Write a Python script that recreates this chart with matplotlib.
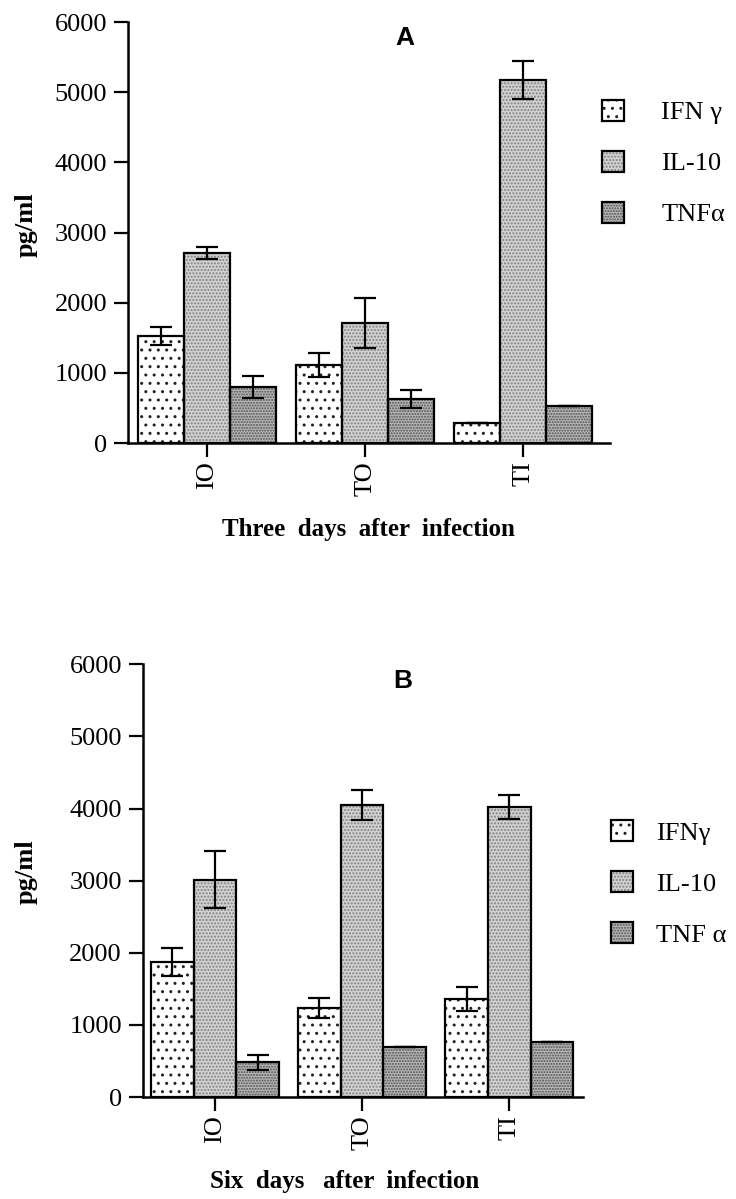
import numpy as np
import matplotlib
matplotlib.use("Agg")
import matplotlib.pyplot as plt

plt.rcParams['font.family'] = ['Liberation Serif', 'DejaVu Serif']
plt.rcParams['hatch.linewidth'] = 1.0

groups = ['IO', 'TO', 'TI']

# panel A - three days
ifn_a = [1530, 1110, 280]
ifn_a_err = [130, 170, 0]
il10_a = [2710, 1710, 5170]
il10_a_err = [90, 360, 270]
tnf_a = [800, 625, 530]
tnf_a_err = [160, 130, 0]

# panel B - six days
ifn_b = [1870, 1235, 1360]
ifn_b_err = [195, 135, 160]
il10_b = [3015, 4045, 4020]
il10_b_err = [395, 210, 170]
tnf_b = [480, 690, 765]
tnf_b_err = [110, 0, 0]

styles = [('white', '#222222', '..'), ('#d2d2d2', '#808080', '.....'), ('#b8b8b8', '#505050', '......')]

fig = plt.figure(figsize=(7.36, 11.99), dpi=100)
axA = fig.add_axes([0.174, 0.6305, 0.655, 0.351])
axB = fig.add_axes([0.194, 0.085, 0.598, 0.361])


def panel(ax, series, errs, names, letter, xlabel, leg_xy, leg_pad, xlim, letter_x, ylab_x, xlab_xy):
    x = np.arange(len(groups))
    w = 0.29
    handles = []
    for i, (vals, err) in enumerate(zip(series, errs)):
        pos = x + (i - 1) * w
        fc, hc, hatch = styles[i]
        b1 = ax.bar(pos, vals, w, color=fc, edgecolor=hc, hatch=hatch, linewidth=0, zorder=2)
        b2 = ax.bar(pos, vals, w, fill=False, edgecolor='black', linewidth=1.6, zorder=3)
        ax.errorbar(pos, vals, yerr=err, fmt='none', ecolor='black', elinewidth=1.6,
                    capsize=8, capthick=1.6, zorder=4)
        handles.append((b1.patches[0], b2.patches[0]))
    ax.set_ylim(0, 6000)
    ax.set_xlim(*xlim)
    ax.set_yticks(range(0, 6001, 1000))
    ax.set_xticks(x)
    ax.set_xticklabels(groups, rotation=90, fontsize=19)
    ax.tick_params(axis='y', labelsize=19, length=10, width=1.6, pad=5)
    ax.tick_params(axis='x', length=10, width=1.6, pad=3)
    for s in ['top', 'right']:
        ax.spines[s].set_visible(False)
    for s in ['left', 'bottom']:
        ax.spines[s].set_linewidth(1.8)
    ax.set_ylabel('pg/ml', fontsize=19, fontweight='bold')
    ax.yaxis.set_label_coords(ylab_x, 0.52)
    ax.set_xlabel(xlabel, fontsize=18, fontweight='bold')
    ax.xaxis.set_label_coords(*xlab_xy)
    ax.text(letter_x, 0.99, letter, transform=ax.transAxes, ha='center', va='top',
            fontsize=19, fontweight='bold', family='Liberation Sans')
    ax.legend(handles, names, loc='upper left', bbox_to_anchor=leg_xy,
              bbox_transform=fig.transFigure, frameon=False, fontsize=19,
              handlelength=0.85, handleheight=0.85, labelspacing=1.0,
              handletextpad=leg_pad, borderpad=0, borderaxespad=0)


panel(axA, [ifn_a, il10_a, tnf_a], [ifn_a_err, il10_a_err, tnf_a_err],
      ['IFN γ', 'IL-10', 'TNFα'], 'A', 'Three  days  after  infection',
      (0.818, 0.917), 1.4, (-0.5, 2.55), 0.575, -0.187, (0.498, -0.178))
panel(axB, [ifn_b, il10_b, tnf_b], [ifn_b_err, il10_b_err, tnf_b_err],
      ['IFNγ', 'IL-10', 'TNF α'], 'B', 'Six  days   after  infection',
      (0.830, 0.316), 0.85, (-0.49, 2.5), 0.59, -0.239, (0.459, -0.169))

fig.savefig('out.png', dpi=100)
